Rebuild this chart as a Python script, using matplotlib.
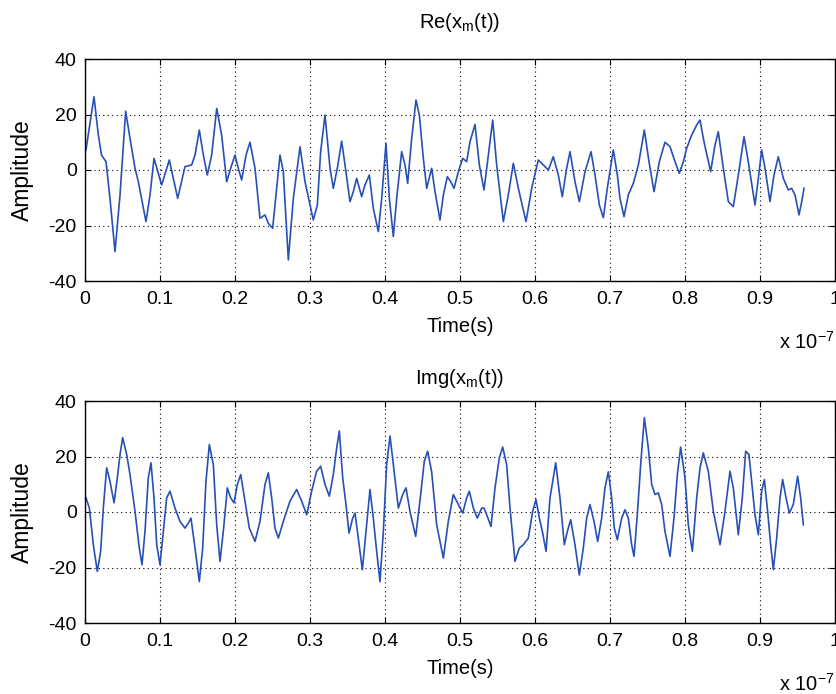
import matplotlib
matplotlib.use("Agg")
import matplotlib.pyplot as plt
import numpy as np

# Time in units of 1e-7 s
t_re = [0.0013, 0.012, 0.0178, 0.022, 0.028, 0.0333, 0.040, 0.0467, 0.0542, 0.060,
        0.0667, 0.0711, 0.0813, 0.0867, 0.092, 0.1022, 0.1124, 0.1236, 0.1333, 0.1422,
        0.1467, 0.1524, 0.1578, 0.1631, 0.1689, 0.1756, 0.1822, 0.1889, 0.1942, 0.2,
        0.2044, 0.2089, 0.2147, 0.22, 0.2267, 0.2333, 0.24, 0.2444, 0.2502, 0.2556,
        0.26, 0.2644, 0.2711, 0.2778, 0.2867, 0.2933, 0.3044, 0.3098, 0.3142, 0.32,
        0.3267, 0.3311, 0.3364, 0.3422, 0.3467, 0.3533, 0.3578, 0.3622, 0.3689, 0.3733,
        0.3791, 0.3844, 0.3911, 0.3956, 0.4013, 0.4058, 0.4111, 0.4156, 0.4222, 0.4267,
        0.4302, 0.4356, 0.4413, 0.4458, 0.4511, 0.4556, 0.4622, 0.4667, 0.4733, 0.4778,
        0.4831, 0.4876, 0.4920, 0.4978, 0.5036, 0.5089, 0.5133, 0.52, 0.5258, 0.5320,
        0.5378, 0.5436, 0.5489, 0.5578, 0.5644, 0.5711, 0.5778, 0.5880, 0.5956, 0.6044,
        0.6111, 0.6178, 0.6244, 0.6311, 0.6364, 0.6422, 0.6467, 0.6533, 0.6591,
        0.6667, 0.6747, 0.68, 0.6858, 0.6911, 0.6964, 0.7044, 0.7098, 0.7133, 0.7187,
        0.7244, 0.7311, 0.7378, 0.7458, 0.752, 0.7587, 0.7658, 0.7733, 0.78, 0.7867,
        0.7924, 0.7978, 0.8022, 0.8089, 0.8156, 0.82, 0.8253, 0.8342, 0.84, 0.8444,
        0.8511, 0.8578, 0.8644, 0.8711, 0.8787, 0.8844, 0.8933, 0.8978, 0.9022, 0.9067,
        0.9133, 0.9187, 0.9244, 0.9311, 0.9378, 0.9422, 0.9467, 0.952, 0.9556, 0.9587]
re_vals = [7.2, 26.4, 12.6, 5.4, 3, -10.2, -29.4, -9, 21.2, 11.4,
           0.6, -4.2, -18.6, -9, 4.2, -5.4, 3.6, -10.2, 1.2, 1.8,
           5.4, 14.4, 5.4, -1.8, 5.4, 22.2, 12.6, -4.2, 0.6, 5.4,
           0.6, -3.6, 5.4, 10, 0.6, -17.4, -16.2, -19.2, -21, -6.6,
           5.4, -0.6, -32.4, -10.2, 8.4, -4.2, -18, -12.6, 6.6, 19.8,
           0.6, -6.6, 0.6, 10.4, 1.8, -11.4, -7.8, -3, -9.6, -5.4,
           -1.8, -13.8, -22.2, -10.2, 9.6, -10.2, -24, -10.2, 6.6, 1.8,
           -4.8, 11.4, 25.2, 19.8, 4.2, -6.6, 0.6, -7.8, -18, -9,
           -2.4, -4.2, -6.6, -0.6, 4.2, 3, 10.2, 16.4, 1.8, -7.2,
           5.4, 18, 1.8, -18.6, -9, 2.4, -6.6, -18.6, -6.6, 3.6,
           1.8, 0, 4.8, -1.8, -9.6, 0.6, 6.6, -4.2, -11.4,
           -0.6, 6.6, -1.8, -12.6, -17.2, -6.6, 7.2, -1.8, -10.2, -16.8,
           -9, -4.8, 1.8, 14.4, 3, -7.8, 3, 10, 8.4, 3,
           -1.2, 3, 7.8, 12.6, 16.2, 18, 10.2, -0.6, 9, 13.8,
           0.6, -11.4, -13.2, -1.8, 12, 3, -12.6, -3, 7.2, 0.6,
           -11.4, -1.8, 4.8, -3, -7.2, -6.6, -9, -16.2, -11.4, -6.6]

t_im = [0.0013, 0.0058, 0.0111, 0.0164, 0.0209, 0.0244, 0.0289, 0.0333, 0.0387, 0.0431,
        0.0467, 0.0502, 0.0556, 0.06, 0.0667, 0.0724, 0.076, 0.08, 0.0844, 0.088,
        0.092, 0.0956, 0.1, 0.1044, 0.1089, 0.1133, 0.12, 0.1267, 0.1333, 0.1378,
        0.1413, 0.1467, 0.1524, 0.1569, 0.1613, 0.1658, 0.1711, 0.1756, 0.18, 0.1844,
        0.1898, 0.1942, 0.1987, 0.2031, 0.2076, 0.2133, 0.2191, 0.2267, 0.2333, 0.24,
        0.2444, 0.2489, 0.2533, 0.2578, 0.2644, 0.2733, 0.2822, 0.2889, 0.2956, 0.3022,
        0.3089, 0.3142, 0.32, 0.3258,
        0.3311, 0.3356, 0.3391, 0.3436, 0.348, 0.352, 0.3569, 0.36, 0.3644, 0.3698,
        0.3747, 0.38, 0.3844, 0.3889, 0.3933, 0.3978, 0.4022, 0.4067, 0.4111, 0.4178,
        0.4236, 0.428, 0.4333, 0.4409, 0.4476, 0.4524, 0.4569, 0.4622, 0.4689, 0.4778,
        0.4844, 0.4911, 0.4978, 0.5036, 0.5089, 0.5124, 0.5178, 0.5231, 0.5289, 0.532,
        0.5356, 0.5413, 0.5467, 0.5524, 0.5569, 0.5622, 0.5667, 0.5733, 0.5791, 0.5844,
        0.5911, 0.5969, 0.6013, 0.6058, 0.6098, 0.6147, 0.62, 0.6276, 0.6333, 0.6391,
        0.6431, 0.6476, 0.6533, 0.6591,
        0.6644, 0.6689, 0.6733, 0.6787, 0.6836, 0.6889, 0.6933, 0.6978, 0.7022, 0.7058,
        0.7098, 0.7156, 0.72, 0.7244, 0.7289, 0.732, 0.7364, 0.7409, 0.7458, 0.7511,
        0.7556, 0.76, 0.7644, 0.7689, 0.7733, 0.78, 0.7853, 0.7898, 0.7942, 0.8,
        0.8044, 0.8098, 0.8156, 0.82, 0.8244, 0.8311, 0.8378, 0.8467, 0.8533, 0.86,
        0.8644, 0.8711, 0.8764, 0.8809, 0.8853, 0.8889, 0.8933, 0.8978, 0.9022, 0.9058,
        0.9102, 0.9142, 0.9178, 0.9222, 0.9267, 0.9302, 0.9347, 0.9391, 0.9444, 0.9502,
        0.9542, 0.9578]
im_vals = [5.1, 1.4, -11.8, -21.4, -14.2, 1.4, 15.9, 11.1, 3.3, 12.3,
           20.7, 26.8, 20.7, 13.5, 0.2, -13, -19, -7, 12.3, 17.7,
           5.1, -11.8, -19, -7, 5.1, 7.5, 1.4, -3.4, -5.8, -4,
           -2.2, -13, -25.1, -13, 11.1, 24.3, 17.1, -4.6, -17.8, -7,
           8.7, 5.1, 3.3, 9.9, 13.5, 3.9, -5.8, -10.6, -3.4, 9.9,
           14.1, 5.1, -5.8, -9.4, -3.4, 3.9, 8.1, 3.9, -1, 7.5,
           14.7, 16.5, 9.9, 5.7,
           13.5, 23.1, 29.2, 12.3, 2.7, -7.6, -2.2, -0.4, -9.4, -20.8,
           -7, 8.1, -2.2, -14.2, -25.1, -7, 17.1, 27.4, 17.1, 1.4,
           6.3, 8.7, 0.2, -8.8, 6.3, 18.3, 21.9, 14.5, -4.6, -16.6,
           -3.4, 6.3, 2.7, -0.4, 5.1, 7.5, 1.4, -2.2, 1.4, 1.4,
           -1, -5.2, 8.7, 19.5, 23.4, 17.1, 1.4, -17.8, -13, -11.8,
           -9.4, 0.2, 4.5, -2.2, -7, -14.2, 5.1, 17.7, 5.1, -11.8,
           -7, -2.8, -11.8, -22.7,
           -13, -2.2, 2.7, -3.4, -10.6, -2.2, 8.7, 14.5, 5.1, -5.8,
           -10, -2.2, 0.8, -2.2, -11.8, -16, -1, 17.1, 34, 23.1,
           9.9, 6.3, 6.9, 2.7, -7, -16, -2.2, 13.5, 23.4, 12.3,
           -4.6, -14.2, 5.1, 15.9, 21.3, 14.7, 0.2, -11.8, 0.2, 14.7,
           8.7, -8.2, 5.1, 21.9, 20.7, 11.1, -1, -8.2, 7.5, 11.7,
           0.2, -11.8, -20.8, -9.4, 5.1, 11.7, 5.1, -0.4, 2.7, 12.9,
           5.1, -4.6]

x_ticks = [0, 0.1, 0.2, 0.3, 0.4, 0.5, 0.6, 0.7, 0.8, 0.9, 1]
x_ticklabels = ["0", "0.1", "0.2", "0.3", "0.4", "0.5", "0.6", "0.7", "0.8", "0.9", "1"]
y_ticks = [-40, -20, 0, 20, 40]
y_ticklabels = ["-40", "-20", "0", "20", "40"]
titles = [r"Re(x$_{\mathrm{m}}$(t))", r"Img(x$_{\mathrm{m}}$(t))"]

plt.rcParams['font.family'] = ['Liberation Sans', 'DejaVu Sans']
plt.rcParams['mathtext.fontset'] = 'custom'
plt.rcParams['mathtext.rm'] = 'Liberation Sans'
plt.rcParams['mathtext.it'] = 'Liberation Sans:italic'

W, H = 837, 694
fig = plt.figure(figsize=(W / 100, H / 100), dpi=100)

ax_left, ax_right = 85, 835
boxes = [(59, 281), (401, 623)]
title_off = [37, 23]
line_color = '#2850b4'

for i, (top, bot) in enumerate(boxes):
    ax = fig.add_axes([ax_left / W, 1 - bot / H, (ax_right - ax_left) / W, (bot - top) / H])
    hpx = bot - top
    if i == 0:
        ax.plot(t_re, re_vals, color=line_color, lw=1.2)
    else:
        ax.plot(t_im, im_vals, color=line_color, lw=1.2)
    ax.set_xlim(0, 1)
    ax.set_ylim(-40, 40)
    ax.set_xticks(x_ticks)
    ax.set_xticklabels(x_ticklabels)
    ax.set_yticks(y_ticks)
    ax.set_yticklabels(y_ticklabels)
    ax.tick_params(direction='in', length=4, width=0.8, top=True, right=True,
                   labelsize=14, colors='black')
    ax.tick_params(axis='x', pad=7)
    ax.tick_params(axis='y', pad=6)
    ax.grid(True, linestyle=(0, (1, 3)), color='black', linewidth=0.8)
    for s in ax.spines.values():
        s.set_linewidth(1.0)
        s.set_color('black')
    ax.set_ylabel('Amplitude', fontsize=16.5, va='center')
    ax.yaxis.set_label_coords((22 - ax_left) / (ax_right - ax_left), 0.5)
    ax.set_xlabel('Time(s)', fontsize=14.5)
    ax.xaxis.set_label_coords(0.5, -45 / hpx)
    ax.xaxis.label.set_va('center')
    ax.text(0.5, 1 + title_off[i] / hpx, titles[i], transform=ax.transAxes,
            ha='center', va='center', fontsize=14.5)
    ax.text(0.925, -61 / hpx, r'x 10$^{-7}$', transform=ax.transAxes,
            ha='left', va='center', fontsize=14.5)

fig.savefig('out.png', dpi=100)
